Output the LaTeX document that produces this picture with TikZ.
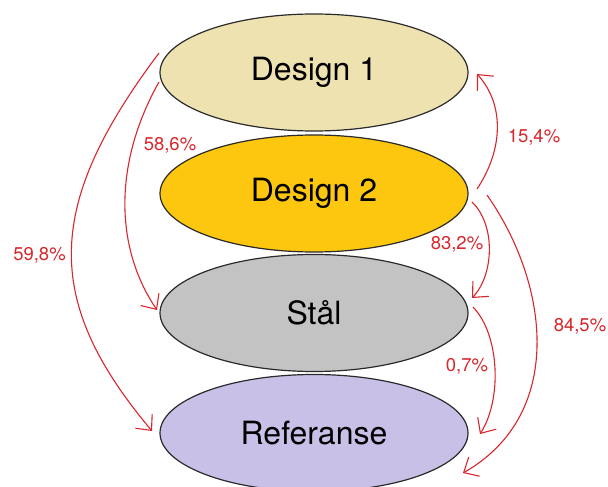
\documentclass[tikz,border=0pt]{standalone}
\usepackage{fontspec}
\setmainfont{TeX Gyre Heros}
\usetikzlibrary{shapes.geometric,arrows.meta}
\definecolor{d1fill}{HTML}{EEE3B0}
\definecolor{d2fill}{HTML}{FDC70F}
\definecolor{stfill}{HTML}{C3C3C3}
\definecolor{reffill}{HTML}{C8C0E6}
\definecolor{arrred}{HTML}{D8262C}
\definecolor{edgecol}{HTML}{2A2A2A}
\begin{document}
\begin{tikzpicture}[x=1pt,y=-1pt,
  blob/.style={ellipse,draw=edgecol,line width=1.2pt,minimum width=308pt,minimum height=117pt,inner sep=0pt,font=\fontsize{32}{38}\selectfont},
  flow/.style={draw=arrred,line width=1.1pt,-{Straight Barb[length=12pt,width=22pt,line width=1.1pt]}},
  pct/.style={text=arrred,font=\fontsize{18.5}{22}\selectfont,inner sep=0pt}]
\useasboundingbox (0,0) rectangle (608,487);
\node[blob,fill=d1fill] (d1) at (314,72.5) {Design 1};
\node[blob,fill=d2fill] (d2) at (314,193.5) {Design 2};
\node[blob,fill=stfill] (st) at (314,313) {Stål};
\node[blob,fill=reffill] (ref) at (314,433) {Referanse};
% arrows
\draw[flow] ([shift={(-155,-19.5)}]d1.center) .. controls (45,205) and (42,300) .. ([shift={(-162,-2)}]ref.center);
\draw[flow] ([shift={(-155,9.5)}]d1.center) .. controls (115,160) and (113,245) .. ([shift={(-157,-3)}]st.center);
\draw[flow] ([shift={(163,-4.5)}]d2.center) .. controls (503,150) and (505,105) .. ([shift={(163,1.5)}]d1.center);
\draw[flow] ([shift={(158,8.5)}]d2.center) .. controls (496,225) and (494,275) .. ([shift={(158,-15)}]st.center);
\draw[flow] ([shift={(173,1.5)}]d2.center) .. controls (550,285) and (565,415) .. ([shift={(149,40)}]ref.center);
\draw[flow] ([shift={(159,-6)}]st.center) .. controls (500,335) and (502,400) .. ([shift={(166,1)}]ref.center);
% labels
\node[pct] (l1) at (39.5,255) {59,8\%};
\node[pct] (l2) at (170,145) {58,6\%};
\node[pct] (l3) at (534,137) {15,4\%};
\node[pct] (l4) at (457,244) {83,2\%};
\node[pct] (l5) at (580,326) {84,5\%};
\node[pct] (l6) at (467,366) {0,7\%};
\end{tikzpicture}
\end{document}
